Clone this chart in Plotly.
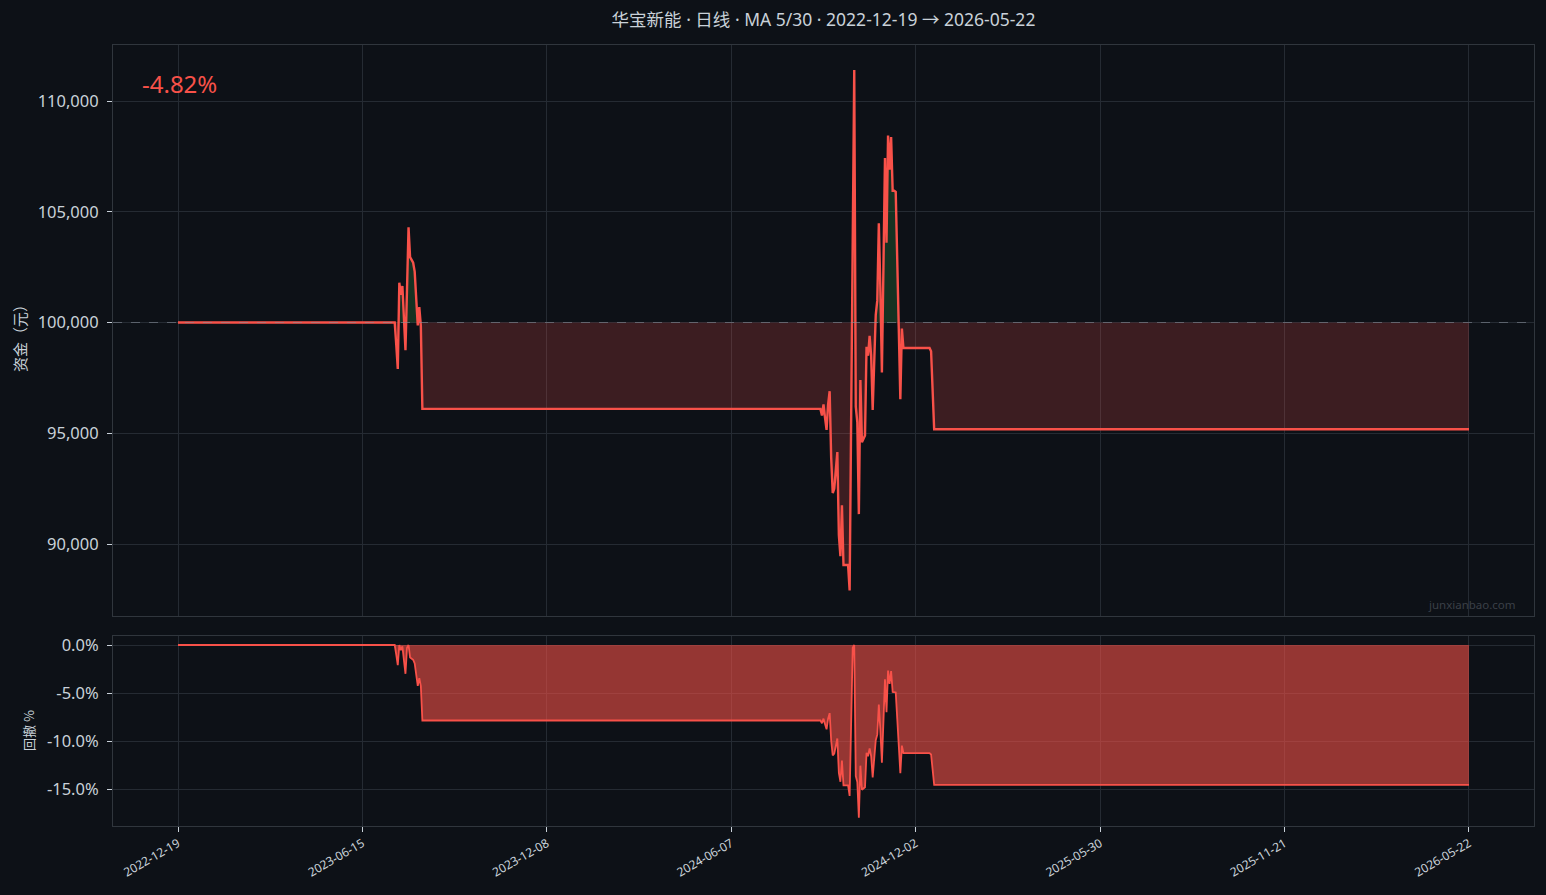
import plotly.graph_objects as go

# ---------------- data ----------------
START_CAPITAL = 100000
N_DAYS = 841  # trading days, index 0 .. 840

TICK_INDEX = [0, 120, 240, 360, 480, 600, 720, 840]
TICK_LABELS = ["2022-12-19", "2023-06-15", "2023-12-08", "2024-06-07",
               "2024-12-02", "2025-05-30", "2025-11-21", "2026-05-22"]

# first trading episode (starts at day 141)
SEG1_START = 141
SEG1 = [100000, 99000, 97900, 101800, 101250, 101650, 100200, 98750, 101500,
        104300, 102950, 102850, 102700, 102300, 101100, 99870, 100700, 99850, 96100]
CASH1 = 96100

# second trading episode (starts at day 418)
SEG2_START = 418
SEG2 = [96100, 95800, 96300, 95700, 95150, 96300, 96900, 93900, 92300, 92500,
        93300, 94150, 90400, 89450, 91750, 89050, 89050, 89050, 89050, 87900,
        96000, 104000, 111400, 96200, 95500, 91350, 97400, 94600, 94750, 94900,
        98900, 98500, 99400, 98500, 96050, 98500, 100350, 101000, 104480, 101500,
        97750, 102500, 107430, 103600, 108440, 106900, 108370, 105950, 105950, 105900,
        102800, 99600, 96540, 99730] + [98850] * 18 + [98700, 96900, 95180]
CASH2 = 95180

RETURN_TEXT = "-4.82%"
TITLE = "华宝新能 · 日线 · MA 5/30 · 2022-12-19 → 2026-05-22"

DD_TICKS = [0, -5, -10, -15]
DD_TICK_TEXT = ["0.0%", "-5.0%", "-10.0%", "-15.0%"]
EQ_TICKS = [90000, 95000, 100000, 105000, 110000]
EQ_TICK_TEXT = ["90,000", "95,000", "100,000", "105,000", "110,000"]

# ---------------- build series ----------------
equity = ([START_CAPITAL] * SEG1_START + SEG1
          + [CASH1] * (SEG2_START - SEG1_START - len(SEG1))
          + SEG2)
equity += [CASH2] * (N_DAYS - len(equity))
idx = list(range(N_DAYS))

dd = []
peak = equity[0]
for v in equity:
    peak = max(peak, v)
    dd.append((v / peak - 1) * 100)

below = [min(v, START_CAPITAL) for v in equity]
above = [max(v, START_CAPITAL) for v in equity]
base = [START_CAPITAL] * N_DAYS

# ---------------- style ----------------
BG = "#0d1117"
GRID = "#252b33"
SPINE = "#30363d"
TXT = "#c9d1d9"
RED = "#f85149"
FONT = "Noto Sans, Noto Sans CJK SC, sans-serif"
CJK = "Noto Sans CJK SC, Noto Sans, sans-serif"

fig = go.Figure()
fig.add_trace(go.Scatter(x=idx, y=base, mode="lines", line=dict(width=0),
                         hoverinfo="skip", showlegend=False, xaxis="x", yaxis="y"))
fig.add_trace(go.Scatter(x=idx, y=below, mode="lines", line=dict(width=0),
                         fill="tonexty", fillcolor="rgba(248,81,73,0.2)",
                         hoverinfo="skip", showlegend=False, xaxis="x", yaxis="y"))
fig.add_trace(go.Scatter(x=idx, y=base, mode="lines", line=dict(width=0),
                         hoverinfo="skip", showlegend=False, xaxis="x", yaxis="y"))
fig.add_trace(go.Scatter(x=idx, y=above, mode="lines", line=dict(width=0),
                         fill="tonexty", fillcolor="rgba(63,185,80,0.2)",
                         hoverinfo="skip", showlegend=False, xaxis="x", yaxis="y"))
fig.add_trace(go.Scatter(x=idx, y=equity, mode="lines", line=dict(color=RED, width=2.4),
                         showlegend=False, xaxis="x", yaxis="y"))
fig.add_trace(go.Scatter(x=idx, y=dd, mode="lines", line=dict(color=RED, width=1.8),
                         fill="tozeroy", fillcolor="rgba(248,81,73,0.58)",
                         showlegend=False, xaxis="x2", yaxis="y2"))

xr = [-42.3, 882.3]
common_x = dict(range=xr, showgrid=True, gridcolor=GRID, gridwidth=1,
                zeroline=False, showline=True, mirror=True, linecolor=SPINE,
                linewidth=1, tickvals=TICK_INDEX, ticktext=TICK_LABELS)
fig.update_layout(
    width=1546, height=895,
    paper_bgcolor=BG, plot_bgcolor=BG,
    margin=dict(l=113, r=12, t=45, b=69),
    font=dict(family=FONT, color=TXT, size=14),
    title=dict(text=TITLE, x=0.5, xref="paper", xanchor="center", y=1 - 20 / 895,
               yanchor="middle", yref="container", font=dict(size=17.5, color=TXT)),
    xaxis=dict(**common_x, domain=[0, 1], anchor="y", matches="x2",
               showticklabels=False, ticks=""),
    xaxis2=dict(**common_x, domain=[0, 1], anchor="y2", ticks="outside",
                ticklen=5, tickcolor=TXT, tickangle=-30,
                tickfont=dict(size=12, color=TXT)),
    yaxis=dict(domain=[(826 - 616) / 781, 1], range=[86750, 112530],
               tickvals=EQ_TICKS, ticktext=EQ_TICK_TEXT, showgrid=True,
               gridcolor=GRID, zeroline=False, showline=True, mirror=True,
               linecolor=SPINE, ticks="outside", ticklen=5, tickcolor=TXT,
               tickfont=dict(size=16.5, color=TXT), ticklabelstandoff=5),
    yaxis2=dict(domain=[0, (826 - 636) / 781], range=[-18.85, 0.94],
                tickvals=DD_TICKS, ticktext=DD_TICK_TEXT, showgrid=True,
                gridcolor=GRID, zeroline=False, showline=True, mirror=True,
                linecolor=SPINE, ticks="outside", ticklen=5, tickcolor=TXT,
                tickfont=dict(size=16.5, color=TXT), ticklabelstandoff=5),
    shapes=[dict(type="line", xref="x domain", yref="y", x0=0, x1=1,
                 y0=START_CAPITAL, y1=START_CAPITAL,
                 line=dict(color="rgba(139,148,158,0.55)", width=1, dash="dash"))],
    annotations=[
        dict(text=RETURN_TEXT, xref="x domain", yref="y domain", x=0.019, y=0.932,
             xanchor="left", yanchor="middle", showarrow=False,
             font=dict(size=24, color=RED)),
        dict(text="junxianbao.com", xref="x domain", yref="y domain", x=0.9887, y=0.021,
             xanchor="right", yanchor="middle", showarrow=False,
             font=dict(size=11.5, color="#3b4048")),
        dict(text="资金（元）", xref="paper", yref="paper", x=-0.0654,
             y=(826 - 335) / 781, xanchor="center", yanchor="middle", textangle=-90,
             showarrow=False, font=dict(size=15, color=TXT, family=CJK)),
        dict(text="回撤 %", xref="paper", yref="paper", x=-0.0598,
             y=(826 - 731) / 781, xanchor="center", yanchor="middle", textangle=-90,
             showarrow=False, font=dict(size=13, color=TXT, family=CJK)),
    ],
)

fig.write_html("out.html", config={"displayModeBar": False},
               post_script="document.body.style.margin='0';document.body.style.background='#0d1117';")
